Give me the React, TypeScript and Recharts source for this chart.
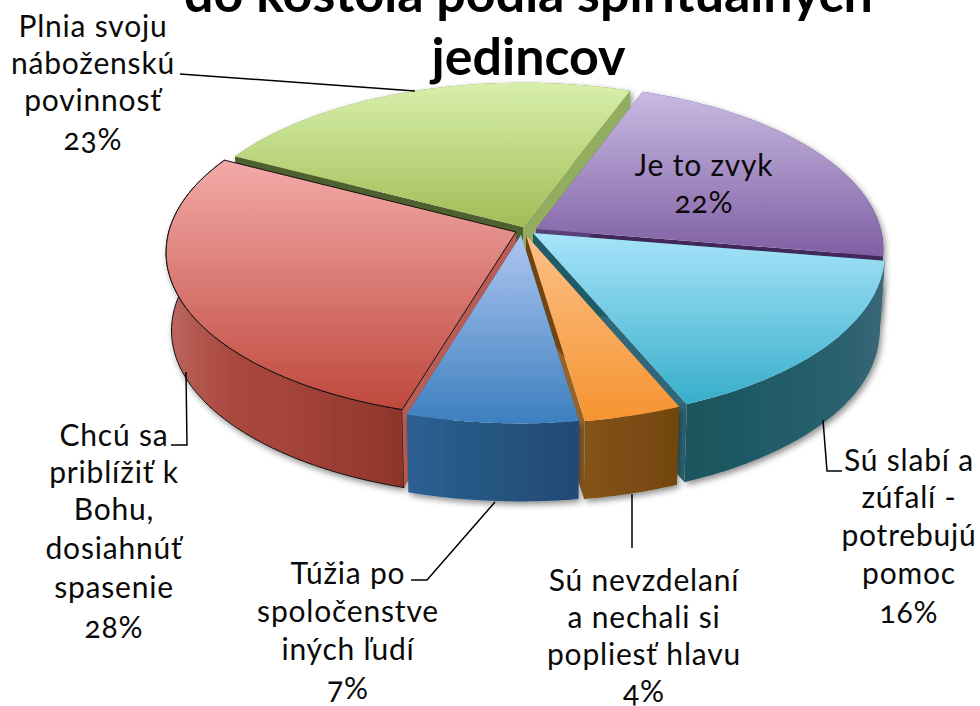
import React from "react";
import { PieChart, Pie } from "recharts";

// ---- data (clockwise, starting at the slice behind the chart)
const categories = [
  "Plnia svoju náboženskú povinnosť",
  "Je to zvyk",
  "Sú slabí a zúfalí - potrebujú pomoc",
  "Sú nevzdelaní a nechali si popliesť hlavu",
  "Túžia po spoločenstve iných ľudí",
  "Chcú sa priblížiť k Bohu, dosiahnúť spasenie",
];
const values = [23, 22, 16, 4, 7, 28];
const titleLines = ["do kostola podľa spirituálnych", "jedincov"];
const labelLines = [
  ["Plnia svoju", "náboženskú", "povinnosť"],
  ["Je to zvyk"],
  ["Sú slabí a", "zúfalí -", "potrebujú", "pomoc"],
  ["Sú nevzdelaní", "a nechali si", "popliesť hlavu"],
  ["Túžia po", "spoločenstve", "iných ľudí"],
  ["Chcú sa", "priblížiť k", "Bohu,", "dosiahnúť", "spasenie"],
];

// ---- presentation
const W = 980, H = 706;
const CX = 525, CY = 232, RX = 349;
const TILT = 165 / 349, PERSP = 0.12, DEPTH = 78, SHRINK = 0.985;
const START_CW = 297.5;
const FONT = "Lato, 'Open Sans', sans-serif";

const styles = [
  { id: "g", top: ["#d8f0ac", "#a0bd55"], wall: ["#7d9544", "#6d8438"], faces: ["#4f6030", "#92ad60"], pass: 0, off: [-2, -5], scale: 0.985 },
  { id: "p", top: ["#c9bae2", "#7f5fa3"], wall: ["#5a4078", "#4a3268"], faces: ["#5a4078", "#42285a"], pass: 0, off: [11, -3], scale: 0.99 },
  { id: "c", top: ["#a8e4fa", "#37aeca"], wall: ["#1a555f", "#1b575f", "#1f5a66", "#215c68", "#26606c", "#2c6270", "#3c6878"], faces: ["#1f5c68", "#2f6878"], pass: 1, off: [8, 1], scale: 1 },
  { id: "o", top: ["#fbc088", "#f69430"], wall: ["#86531a", "#7e4e14", "#7a4a12", "#704510"], faces: ["#704510", "#95642a"], pass: 1, off: [1, 3], scale: 1 },
  { id: "b", top: ["#aec6f0", "#3c7fbf"], wall: ["#2e6094", "#285a8a", "#24557f", "#264f7c", "#204a75"], faces: ["#2e6094", "#2e6094"], pass: 1, off: [-4, 3], scale: 1 },
  { id: "r", top: ["#f3aaa8", "#bf483d"], wall: ["#bc6a62", "#b05249", "#a8453c", "#a5443b", "#9e3f36", "#963a30", "#8e352b"], faces: ["#b85c55", "#b85c55"], pass: 0, off: [-9, 0], scale: 0.995, outline: "#111" },
];
const layouts = [
  { x: 93, y: [37, 74, 111, 150], leader: [[180, 74], [415, 91]] },
  { x: 704, y: [176, 213], leader: [] },
  { x: 909, y: [471, 508, 546, 584, 623], leader: [[823, 420], [827, 471], [842, 471]] },
  { x: 644, y: [591, 628, 665, 702], leader: [[632, 494], [632, 548]] },
  { x: 348, y: [584, 622, 660, 699], leader: [[411, 580], [427, 580], [495, 502]] },
  { x: 114, y: [446, 483, 520, 559, 598, 638], leader: [[171, 445], [187, 445], [186, 372]] },
];

const data = categories.map((name, i) => ({ name, value: values[i], idx: i }));
type P = [number, number];
const rad = (d: number) => (d * Math.PI) / 180;

function makeProjector(cx: number, cy: number, R: number, st: any) {
  const ou = st.off[0] / R, ov = st.off[1] / (R * TILT);
  return (cw: number | null): P => {
    const u = (cw === null ? 0 : Math.sin(rad(cw)) * st.scale) + ou;
    const v = (cw === null ? 0 : -Math.cos(rad(cw)) * st.scale) + ov;
    const w = 1 - PERSP * v;
    return [cx + (R * u) / w, cy + (R * TILT * v) / w];
  };
}
const pathOf = (pts: P[]) => "M" + pts.map((p) => `${p[0].toFixed(1)},${p[1].toFixed(1)}`).join("L") + "Z";

const makeShape = (pass: number) => (props: any) => {
  const idx = props.payload?.idx ?? props.idx;
  const st: any = styles[idx];
  if (st.pass !== pass) return <g />;
  const { cx, cy, outerRadius, startAngle, endAngle } = props;
  const a0 = 90 - startAngle, a1 = 90 - endAngle;
  const proj = makeProjector(cx, cy, outerRadius, st);
  const down = (p: P): P => [cx + (p[0] - cx) * SHRINK, p[1] + DEPTH];
  const arc: P[] = [];
  const N = 60;
  for (let i = 0; i <= N; i++) arc.push(proj(a0 + ((a1 - a0) * i) / N));
  const apex = proj(null);
  const first = arc[0], last = arc[N];
  const topPath = pathOf([apex, ...arc]);
  const wallPath = pathOf([...arc, ...arc.slice().reverse().map(down)]);
  const face0 = pathOf([apex, first, down(first), down(apex)]);
  const face1 = pathOf([apex, last, down(last), down(apex)]);
  const strokeProps = st.outline ? { stroke: st.outline, strokeWidth: 1 } : { stroke: "none" };
  const wallEl = <path d={wallPath} fill={`url(#wall-${st.id})`} filter={`url(#sh-${st.id})`} {...strokeProps} />;
  return (
    <g>
      <defs>
        <linearGradient id={`top-${st.id}`} x1="0" y1="0" x2="0" y2="1">
          <stop offset="0" stopColor={st.top[0]} />
          <stop offset="1" stopColor={st.top[1]} />
        </linearGradient>
        <linearGradient id={`wall-${st.id}`} x1="0" y1="0" x2="1" y2="0">
          {st.wall.map((c: string, i: number) => (
            <stop key={i} offset={i / (st.wall.length - 1)} stopColor={c} />
          ))}
        </linearGradient>
        <filter id={`sh-${st.id}`} x="-10%" y="-10%" width="125%" height="125%">
          <feDropShadow dx="2" dy="3" stdDeviation="3" floodColor="#000" floodOpacity="0.45" />
        </filter>
      </defs>
      {pass === 0 ? wallEl : null}
      <path d={face1} fill={st.faces[1]} />
      <path d={face0} fill={st.faces[0]} />
      {pass === 1 ? wallEl : null}
      <path d={topPath} fill={`url(#top-${st.id})`} {...strokeProps} />
    </g>
  );
};

const renderLabel = (props: any) => {
  const idx = props.payload?.idx ?? props.idx ?? props.index;
  const lay = layouts[idx];
  const lines = [...labelLines[idx], `${values[idx]}%`];
  return (
    <g key={idx}>
      {lay.leader.length > 0 && (
        <polyline points={lay.leader.map((p) => p.join(",")).join(" ")} fill="none" stroke="#000" strokeWidth={1.5} />
      )}
      <text textAnchor="middle" fontFamily={FONT} fontSize={30} letterSpacing={0.8} fill="#0a0a0a" style={{ fontFeatureSettings: '"onum"' }}>
        {lines.map((l, i) => (
          <tspan key={i} x={lay.x} y={lay.y[i]}>{l}</tspan>
        ))}
      </text>
    </g>
  );
};

const shapeBack = makeShape(0);
const shapeFront = makeShape(1);
const pieProps = {
  data,
  dataKey: "value",
  nameKey: "name",
  cx: CX,
  cy: CY,
  outerRadius: RX,
  startAngle: 90 - START_CW,
  endAngle: 90 - START_CW - 360,
  isAnimationActive: false,
  stroke: "none",
};

export default function App() {
  return (
    <div style={{ position: "absolute", left: 0, top: 0, width: W, height: H, background: "#fff" }}>
      <PieChart width={W} height={H} margin={{ top: 0, right: 0, bottom: 0, left: 0 }}>
        <text textAnchor="middle" fontFamily={FONT} fontWeight={700} fontSize={52} fill="#000">
          <tspan x={528.5} y={12}>{titleLines[0]}</tspan>
          <tspan x={528.5} y={75}>{titleLines[1]}</tspan>
        </text>
        <Pie {...pieProps} shape={shapeBack} labelLine={false} label={false} />
        <Pie {...pieProps} shape={shapeFront} labelLine={false} label={renderLabel} />
      </PieChart>
    </div>
  );
}
